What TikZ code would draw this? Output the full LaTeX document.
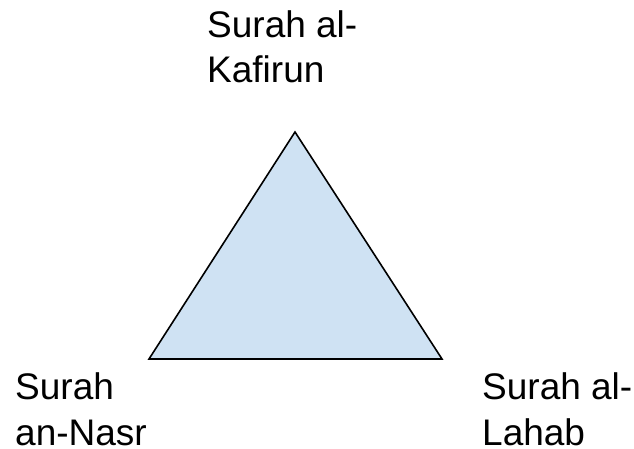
\documentclass[tikz,border=0pt]{standalone}
\usepackage{fontspec}
\setmainfont{Liberation Sans}
\definecolor{trifill}{HTML}{CFE2F3}
\begin{document}
\begin{tikzpicture}[x=1pt,y=-1pt,
  lbl/.style={anchor=base west,align=left,inner sep=0pt,font=\fontsize{37}{45.5}\selectfont},
  tri/.style={draw=black,line width=1.6pt,fill=trifill,line join=miter}]
\useasboundingbox (0,0) rectangle (634,449);
\coordinate (apex) at (295,132);
\coordinate (bl) at (149,359);
\coordinate (br) at (442,359);
\draw[tri] (apex) -- (br) -- (bl) -- cycle;
\node[lbl] (top) at (207,83) {Surah al-\\Kafirun};
\node[lbl] (left) at (15,445) {Surah\\an-Nasr};
\node[lbl] (right) at (482,445) {Surah al-\\Lahab};
\end{tikzpicture}
\end{document}
